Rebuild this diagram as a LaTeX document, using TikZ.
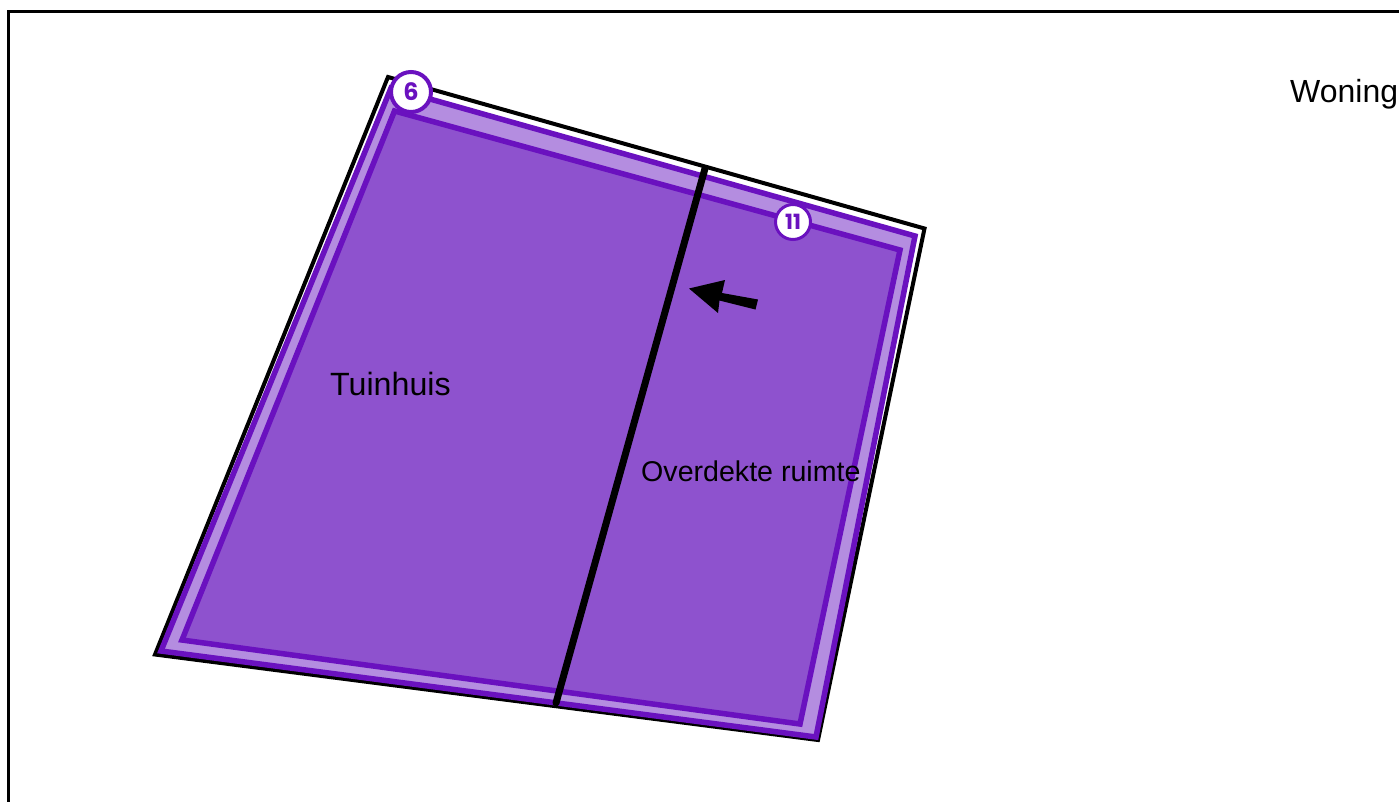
\documentclass[tikz,border=0pt]{standalone}
\usepackage{fontspec}
\setmainfont{Liberation Sans}
\newfontfamily\badgefont{Poppins}
\definecolor{roomfill}{HTML}{8E52CE}
\definecolor{bandfill}{HTML}{B48DE0}
\definecolor{roomline}{HTML}{6A11BF}
\tikzset{
  outline/.style={draw=black,line width=4pt,line join=miter},
  band/.style={draw=roomline,fill=bandfill,line width=5.5pt,line join=miter},
  room/.style={draw=roomline,fill=roomfill,line width=5.5pt,line join=miter},
  divider/.style={draw=black,line width=7pt,line cap=round},
  badge/.style={circle,draw=roomline,fill=white,inner sep=0pt,text=roomline},
  lbl/.style={anchor=base west,inner sep=0pt,text=black}
}
\begin{document}
\begin{tikzpicture}[x=1pt,y=-1pt]
\useasboundingbox (0,0) rectangle (1399,801);
\fill[white] (0,0) rectangle (1399,801);
\draw[black,line width=3.4pt,line join=miter] (8.5,810) -- (8.5,11.5) -- (1410,11.5);
\coordinate (oa) at (388,77);
\coordinate (ob) at (924.5,228.5);
\coordinate (oc) at (818,740);
\coordinate (od) at (155,654.5);
\draw[outline] (oa) -- (ob) -- (oc) -- (od) -- cycle;
\draw[band] (391,88) -- (915,236) -- (816,737) -- (161,651) -- cycle;
\draw[room] (394.5,111) -- (900,250) -- (800,724) -- (182,640) -- cycle;
\coordinate (dt) at (705,168.5);
\coordinate (db) at (556,703);
\draw[divider] (dt) -- (db);
\fill[black] (689,288.5) -- (725,280) -- (722,293) -- (758,299.5) -- (755.5,309.5) -- (719.5,300.5) -- (718,313) -- cycle;
\node[badge,minimum size=40pt,line width=4pt,font=\badgefont\bfseries\fontsize{24}{24}\selectfont] (six) at (411,92) {6};
\node[badge,minimum size=35pt,line width=3pt,font=\badgefont\bfseries\fontsize{21}{21}\selectfont] (eleven) at (793,222) {11};
\node[lbl,font=\fontsize{32.2}{34}\selectfont] (tuin) at (330,395) {Tuinhuis};
\node[lbl,font=\fontsize{32}{34}\selectfont] (won) at (1290,102.5) {Woning};
\node[lbl,font=\fontsize{28.6}{30}\selectfont] (over) at (641,481) {Overdekte ruimte};
\end{tikzpicture}
\end{document}
